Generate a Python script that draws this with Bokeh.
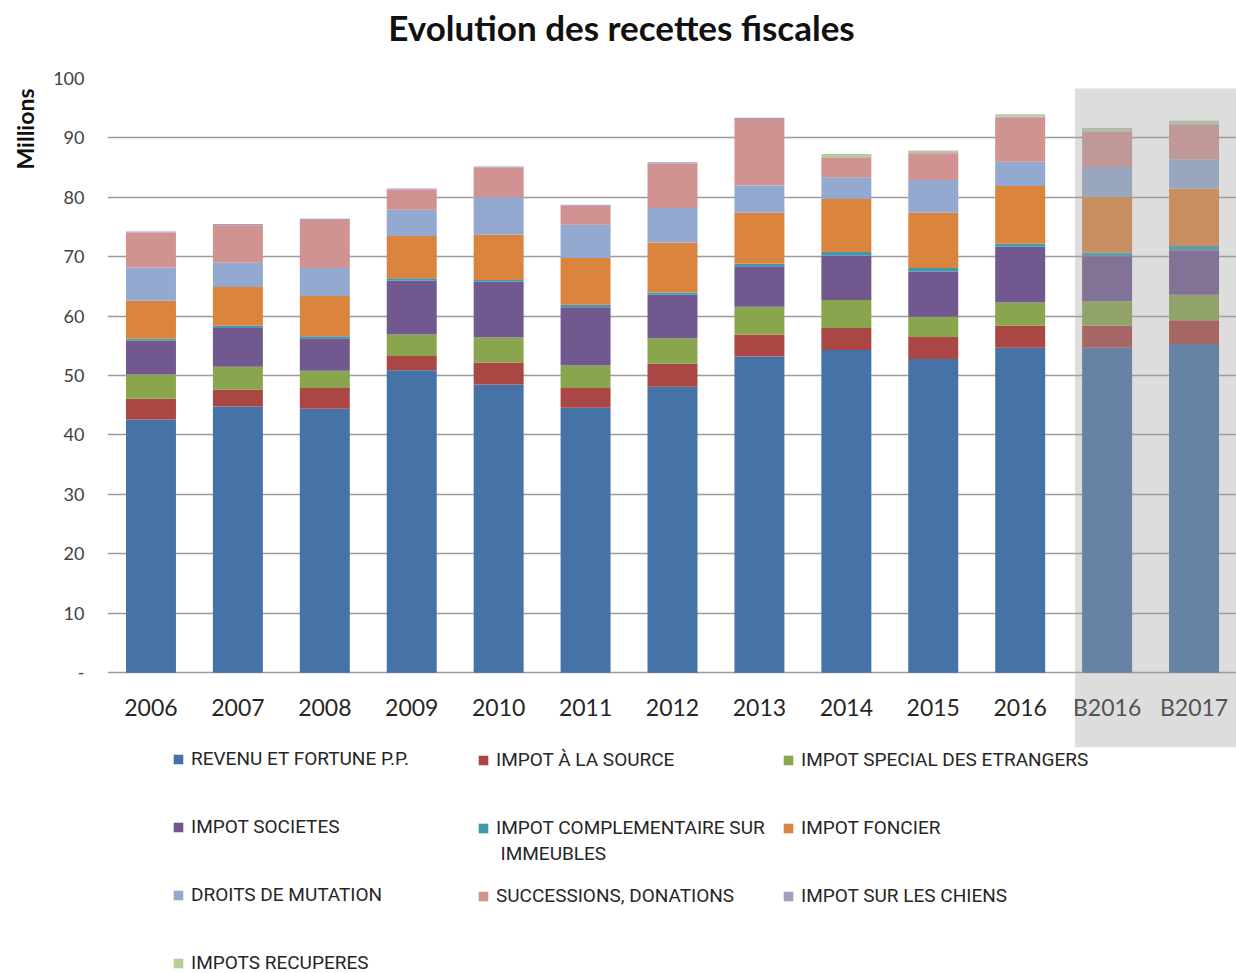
from bokeh.plotting import figure
from bokeh.layouts import column
from bokeh.models import (FactorRange, Range1d, Legend, LegendItem, BoxAnnotation,
                          Title, FixedTicker, ColumnDataSource, Label)
from bokeh.embed import file_html
from bokeh.resources import INLINE

chart_title = "Evolution des recettes fiscales"
years = ["2006", "2007", "2008", "2009", "2010", "2011", "2012", "2013",
         "2014", "2015", "2016", "B2016", "B2017"]

series_labels = ["REVENU ET FORTUNE P.P.", "IMPOT À LA SOURCE", "IMPOT SPECIAL DES ETRANGERS",
                 "IMPOT SOCIETES", "IMPOT COMPLEMENTAIRE SUR", "IMPOT FONCIER",
                 "DROITS DE MUTATION", "SUCCESSIONS, DONATIONS", "IMPOT SUR LES CHIENS",
                 "IMPOTS RECUPERES"]
label_continuation = "IMMEUBLES"

revenu = [42.6, 44.8, 44.4, 50.9, 48.5, 44.6, 48.1, 53.2, 54.3, 52.8, 54.7, 54.7, 55.3]
source_imp = [3.5, 2.8, 3.5, 2.4, 3.7, 3.3, 3.9, 3.7, 3.7, 3.7, 3.7, 3.7, 4.0]
etrangers = [4.1, 3.9, 2.9, 3.6, 4.2, 3.8, 4.3, 4.7, 4.7, 3.4, 3.9, 4.1, 4.3]
societes = [5.7, 6.5, 5.5, 9.1, 9.4, 9.8, 7.3, 6.8, 7.5, 7.6, 9.4, 7.6, 7.5]
complementaire = [0.3, 0.4, 0.3, 0.4, 0.3, 0.4, 0.4, 0.4, 0.6, 0.6, 0.5, 0.6, 0.7]
foncier = [6.4, 6.5, 6.8, 7.1, 7.6, 7.9, 8.4, 8.6, 8.9, 9.3, 9.7, 9.4, 9.7]
mutation = [5.6, 4.1, 4.7, 4.4, 6.3, 5.6, 5.8, 4.6, 3.7, 5.5, 4.1, 5.0, 4.9]
successions = [5.9, 6.3, 8.1, 3.4, 5.0, 3.2, 7.5, 11.2, 3.2, 4.5, 7.4, 6.0, 5.8]
chiens = [0.15, 0.2, 0.2, 0.2, 0.2, 0.15, 0.2, 0.2, 0.15, 0.2, 0.2, 0.15, 0.2]
recuperes = [0, 0, 0, 0, 0, 0, 0, 0, 0.55, 0.3, 0.4, 0.4, 0.5]

colors = ["#4572A7", "#AA4643", "#89A54E", "#71588F", "#4198AF", "#DB843D",
          "#93A9CF", "#D19392", "#A99BBD", "#B9CD96"]

keys = ["revenu", "source_imp", "etrangers", "societes", "complementaire", "foncier",
        "mutation", "successions", "chiens", "recuperes"]
data = dict(year=years, revenu=revenu, source_imp=source_imp, etrangers=etrangers,
            societes=societes, complementaire=complementaire, foncier=foncier,
            mutation=mutation, successions=successions, chiens=chiens, recuperes=recuperes)
src = ColumnDataSource(data)

FRAME_LEFT = 106
W = 1236

# ---- title strip ----
TITLE_H = 62
tf = figure(width=W, height=TITLE_H, x_range=Range1d(0, 1), y_range=Range1d(0, 1),
            x_axis_type=None, y_axis_type=None, output_backend="svg", toolbar_location=None,
            min_border_left=FRAME_LEFT, min_border_right=0, min_border_top=0,
            min_border_bottom=0, title=None)
tf.outline_line_color = None
tf.grid.visible = False
tf.add_layout(Label(x=620 - FRAME_LEFT, y=TITLE_H - 26, x_units="screen", y_units="screen",
                    text=chart_title, text_font="Lato", text_font_size="35px",
                    text_font_style="bold", text_color="#111111",
                    text_align="center", text_baseline="middle"))

# ---- chart ----
Y_BOTTOM = -12.6  # blank strip below zero that holds the category labels

p = figure(x_range=FactorRange(*years), y_range=Range1d(Y_BOTTOM, 100),
           frame_width=1130, frame_height=669, output_backend="svg", toolbar_location=None,
           min_border_left=FRAME_LEFT, min_border_right=0, min_border_top=78 - TITLE_H,
           min_border_bottom=1, title=None)

p.vbar_stack(keys, x="year", width=0.575, color=colors, line_color=None, source=src)

ylab = Title(text="Millions", align="right", vertical_align="top", standoff=20,
             text_font="Lato", text_font_size="23px",
             text_font_style="bold", text_color="#111111", offset=10)
p.add_layout(ylab, "left")

p.outline_line_color = None
p.background_fill_color = "white"
p.xgrid.grid_line_color = None
p.ygrid.ticker = FixedTicker(ticks=[0, 10, 20, 30, 40, 50, 60, 70, 80, 90, 100])
p.ygrid.grid_line_color = "#9c9c9c"
p.ygrid.grid_line_width = 1.5
p.yaxis.ticker = FixedTicker(ticks=[0, 10, 20, 30, 40, 50, 60, 70, 80, 90, 100])
p.yaxis.major_label_overrides = {0: "-"}
p.yaxis.axis_line_color = None
p.yaxis.major_tick_line_color = None
p.yaxis.major_tick_out = 0
p.yaxis.minor_tick_line_color = None
p.yaxis.major_label_standoff = 23
p.yaxis.major_label_text_font = "Lato"
p.yaxis.major_label_text_font_size = "18px"
p.yaxis.major_label_text_color = "#404040"

p.xaxis.axis_line_color = None
p.xaxis.major_tick_line_color = None
p.xaxis.major_tick_out = 0
p.xaxis.major_label_standoff = -55
p.xaxis.major_label_text_font = "Lato"
p.xaxis.major_label_text_font_size = "23px"
p.xaxis.major_label_text_color = "#262626"

shade = BoxAnnotation(left=years.index("B2016") + 0.5 - 0.37, right=len(years) + 0.5,
                      top=98.3, bottom=Y_BOTTOM, fill_color="#a0a0a0", fill_alpha=0.36,
                      line_color=None, level="annotation")
p.add_layout(shade)

# ---- legend strip: shares the category range; its y window lies far above the
# data so the stacked bars there only serve as legend swatches ----
LEG_H = 225
lg = figure(width=W, height=LEG_H, x_range=p.x_range, y_range=Range1d(1000, 1225),
            x_axis_type=None, y_axis_type=None, output_backend="svg", toolbar_location=None,
            min_border_left=FRAME_LEFT, min_border_right=0, min_border_top=0,
            min_border_bottom=0, title=None)
lg.outline_line_color = None
lg.grid.visible = False

swatches = lg.vbar_stack(keys, x="year", width=0.575, color=colors, line_color=None, source=src)

columns_idx = [[0, 3, 6, 9], [1, 4, 7], [2, 5, 8]]
col_x = [171, 476, 781]
for idx, cx in zip(columns_idx, col_x):
    items = [LegendItem(label=series_labels[i], renderers=[swatches[i]]) for i in idx]
    n = len(idx)
    h = n * 22 + (n - 1) * 45
    leg = Legend(items=items, orientation="vertical", location=(cx - FRAME_LEFT, LEG_H - h - 3),
                 padding=0, margin=0, spacing=45, glyph_width=12, glyph_height=12,
                 label_height=20, label_standoff=7,
                 label_text_font="Roboto", label_text_font_size="19px",
                 label_text_color="#262626", border_line_color=None,
                 background_fill_alpha=0)
    lg.add_layout(leg)

cont = Label(x=col_x[1] + 23 - FRAME_LEFT, y=LEG_H - 105, x_units="screen", y_units="screen",
             text=label_continuation, text_font="Roboto",
             text_font_size="19px", text_color="#262626", text_baseline="middle")
lg.add_layout(cont)

layout = column(tf, p, lg, spacing=0)
open("out.html", "w").write(file_html(layout, INLINE))
